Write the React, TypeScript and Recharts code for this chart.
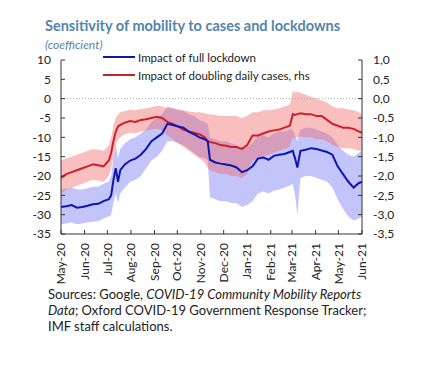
import React from 'react';
import {
  ComposedChart,
  Area,
  Line,
  XAxis,
  YAxis,
  ReferenceLine,
} from 'recharts';

// observation dates (roughly weekly, extra points around the jumps)
const dates = [
  '2020-05-01', '2020-05-08', '2020-05-15', '2020-05-22', '2020-05-29', '2020-06-05', '2020-06-12',
  '2020-06-19', '2020-06-26', '2020-07-03', '2020-07-06', '2020-07-09', '2020-07-12', '2020-07-15',
  '2020-07-18', '2020-07-24', '2020-07-31', '2020-08-07', '2020-08-14', '2020-08-21', '2020-08-28',
  '2020-09-04', '2020-09-11', '2020-09-18', '2020-09-25', '2020-10-02', '2020-10-09', '2020-10-16',
  '2020-10-23', '2020-10-30', '2020-11-06', '2020-11-10', '2020-11-13', '2020-11-20', '2020-11-27',
  '2020-12-04', '2020-12-11', '2020-12-18', '2020-12-25', '2021-01-01', '2021-01-08', '2021-01-15',
  '2021-01-22', '2021-01-29', '2021-02-05', '2021-02-12', '2021-02-19', '2021-02-26', '2021-03-02',
  '2021-03-05', '2021-03-08', '2021-03-12', '2021-03-19', '2021-03-26', '2021-04-02', '2021-04-09',
  '2021-04-16', '2021-04-23', '2021-04-30', '2021-05-07', '2021-05-14', '2021-05-21', '2021-05-28',
  '2021-06-01',
];

// impact of full lockdown (lhs)
const lockdown = [
  -28, -27.8, -27.5, -28.2, -28, -27.7, -27.3, -27.2, -26.5, -26, -25, -21, -18, -21.5,
  -18.5, -17, -16, -15.5, -14.5, -13, -11, -10, -9, -6.5, -6.8, -7.2, -7.5, -8.5,
  -9.2, -10, -10.5, -11, -15.8, -16.5, -16.8, -17, -17.3, -17.8, -19, -18.5, -17.5, -15.5,
  -15.2, -15.8, -14.8, -14.5, -14.3, -13.8, -13.5, -15.5, -17.8, -13.5, -13.2, -12.8, -13, -13.4,
  -13.8, -14.5, -17.5, -19.5, -21.5, -23, -21.8, -21.5,
];
const lockdownLow = [
  -32.5, -32.3, -32, -32.5, -32.3, -32, -31.8, -31.7, -31, -30.5, -30, -27, -24.5, -27,
  -24.5, -23, -21.5, -21, -20, -18, -16, -15, -13.5, -11, -11, -11.5, -12, -13,
  -14, -15, -15.5, -16, -25.5, -26, -26.5, -26.5, -27, -27, -28, -27.5, -26.5, -24.5,
  -24, -24.5, -23.8, -23.5, -23, -22.5, -22, -25, -30, -20.5, -20, -20, -20.5, -21,
  -21.5, -23, -26, -28.5, -30.5, -31.5, -31, -30.5,
];
const lockdownHigh = [
  -23.5, -23.3, -23, -23.5, -23.5, -23.2, -22.8, -22.7, -22, -21.5, -20, -15, -12, -15.5,
  -13, -11.5, -10.5, -10, -9, -8, -6, -5, -4, -2, -2.5, -3, -3.2, -4,
  -4.5, -5.5, -6, -6.5, -10, -10.5, -11, -11, -11.5, -12, -13, -12.5, -11.5, -9.5,
  -9.5, -10, -9, -8.5, -8.5, -8, -8, -9.5, -11, -8, -7.5, -7.5, -8, -8.5,
  -9, -10, -12, -13.5, -14.5, -15, -14, -13.5,
];

// impact of doubling daily cases (rhs)
const cases = [
  -2.05, -1.95, -1.9, -1.85, -1.8, -1.75, -1.7, -1.72, -1.75, -1.6, -1.4, -1.1, -0.85, -0.72,
  -0.68, -0.62, -0.58, -0.6, -0.55, -0.53, -0.5, -0.47, -0.5, -0.6, -0.65, -0.72, -0.8, -0.85,
  -0.88, -0.92, -1.0, -1.1, -1.12, -1.15, -1.2, -1.22, -1.25, -1.25, -1.3, -1.2, -0.95, -0.95,
  -0.9, -0.85, -0.82, -0.8, -0.75, -0.7, -0.4, -0.42, -0.4, -0.38, -0.4, -0.4, -0.45, -0.45,
  -0.55, -0.65, -0.7, -0.75, -0.75, -0.78, -0.85, -0.88,
];
const casesLow = [
  -2.45, -2.35, -2.3, -2.25, -2.2, -2.15, -2.1, -2.12, -2.15, -2.0, -1.8, -1.5, -1.2, -1.05,
  -1.0, -0.92, -0.88, -0.9, -0.85, -0.83, -0.8, -0.78, -0.82, -0.95, -1.05, -1.15, -1.25, -1.35,
  -1.45, -1.55, -1.65, -1.8, -1.85, -1.9, -1.95, -1.95, -2.0, -2.0, -2.05, -1.95, -1.6, -1.55,
  -1.5, -1.45, -1.4, -1.35, -1.3, -1.25, -1.0, -1.02, -1.0, -0.98, -1.0, -1.0, -1.05, -1.05,
  -1.1, -1.2, -1.25, -1.28, -1.28, -1.3, -1.35, -1.35,
];
const casesHigh = [
  -1.6, -1.55, -1.5, -1.45, -1.4, -1.35, -1.3, -1.32, -1.35, -1.2, -1.0, -0.7, -0.5, -0.4,
  -0.35, -0.32, -0.28, -0.3, -0.27, -0.25, -0.22, -0.18, -0.2, -0.25, -0.25, -0.28, -0.3, -0.33,
  -0.35, -0.35, -0.38, -0.4, -0.4, -0.42, -0.45, -0.45, -0.45, -0.45, -0.5, -0.45, -0.35, -0.35,
  -0.3, -0.3, -0.28, -0.25, -0.2, -0.15, 0.2, 0.15, 0.18, 0.15, 0.1, 0.05, 0.0, -0.05,
  -0.1, -0.2, -0.25, -0.25, -0.28, -0.3, -0.35, -0.4,
];

const monthTicks = [
  '2020-05-01', '2020-06-01', '2020-07-01', '2020-08-01', '2020-09-01', '2020-10-01', '2020-11-01',
  '2020-12-01', '2021-01-01', '2021-02-01', '2021-03-01', '2021-04-01', '2021-05-01', '2021-06-01',
];
const monthLabels = [
  'May-20', 'Jun-20', 'Jul-20', 'Aug-20', 'Sep-20', 'Oct-20', 'Nov-20',
  'Dec-20', 'Jan-21', 'Feb-21', 'Mar-21', 'Apr-21', 'May-21', 'Jun-21',
];
const leftTicks = [10, 5, 0, -5, -10, -15, -20, -25, -30, -35];
const rightTicks = [1, 0.5, 0, -0.5, -1, -1.5, -2, -2.5, -3, -3.5];

const BLUE = '#0d16b0';
const RED = '#d01f2b';
const FONT = 'Lato, "Open Sans", sans-serif';

const data = dates.map((d, i) => ({
  t: Date.parse(d),
  lockdown: lockdown[i],
  lockdownBand: [lockdownLow[i], lockdownHigh[i]],
  cases: cases[i],
  casesBand: [casesLow[i], casesHigh[i]],
}));

const tickTimes = monthTicks.map((d) => Date.parse(d));

const MonthTick = ({ x, y, payload }: any) => {
  const idx = tickTimes.indexOf(payload.value);
  return (
    <text
      x={0}
      y={0}
      transform={`translate(${x},${y}) rotate(-90)`}
      textAnchor="end"
      dy="0.35em"
      fontSize={12}
      fontFamily={FONT}
      fill="#222"
    >
      {monthLabels[idx]}
    </text>
  );
};

export default function App() {
  return (
    <div
      style={{
        position: 'absolute',
        left: 0,
        top: 0,
        width: 439,
        height: 380,
        background: '#fff',
        fontFamily: FONT,
      }}
    >
      <div
        style={{
          position: 'absolute',
          left: 45,
          top: 17,
          fontSize: 14.5,
          fontWeight: 700,
          color: '#5484a8',
          whiteSpace: 'nowrap',
        }}
      >
        Sensitivity of mobility to cases and lockdowns
      </div>
      <div
        style={{
          position: 'absolute',
          left: 45,
          top: 37,
          fontSize: 12,
          fontStyle: 'italic',
          color: '#5484a8',
        }}
      >
        (coefficient)
      </div>

      <div style={{ position: 'absolute', left: 0, top: 0 }}>
        <ComposedChart
          width={439}
          height={300}
          data={data}
          margin={{ top: 60, right: 7, left: 0, bottom: 20 }}
        >
          <XAxis
            dataKey="t"
            type="number"
            scale="time"
            domain={[tickTimes[0], tickTimes[tickTimes.length - 1]]}
            ticks={tickTimes}
            tick={<MonthTick />}
            tickSize={-4}
            tickMargin={13}
            height={46}
            stroke="#333"
            interval={0}
          />
          <YAxis
            yAxisId="left"
            domain={[-35, 10]}
            ticks={leftTicks}
            width={61}
            tickSize={-4}
            tickMargin={14}
            stroke="#333"
            interval={0}
            tick={{ fontSize: 12, fill: '#222', fontFamily: FONT }}
          />
          <YAxis
            yAxisId="right"
            orientation="right"
            domain={[-3.5, 1]}
            ticks={rightTicks}
            width={70}
            tickSize={-4}
            tickMargin={15}
            stroke="#333"
            interval={0}
            tickFormatter={(v: number) => v.toFixed(1).replace('.', ',')}
            tick={{ fontSize: 12, fill: '#222', fontFamily: FONT, textAnchor: 'start' }}
          />
          <ReferenceLine yAxisId="left" y={0} stroke="#aaa" strokeDasharray="1 2" />
          <Area
            yAxisId="left"
            type="linear"
            dataKey="lockdownBand"
            stroke="none"
            fill="#7b7ff5"
            fillOpacity={0.45}
            isAnimationActive={false}
          />
          <Area
            yAxisId="right"
            type="linear"
            dataKey="casesBand"
            stroke="none"
            fill="#f06060"
            fillOpacity={0.4}
            isAnimationActive={false}
          />
          <Line
            yAxisId="right"
            type="linear"
            dataKey="cases"
            stroke={RED}
            strokeWidth={2}
            dot={false}
            isAnimationActive={false}
          />
          <Line
            yAxisId="left"
            type="linear"
            dataKey="lockdown"
            stroke={BLUE}
            strokeWidth={2}
            dot={false}
            isAnimationActive={false}
          />
        </ComposedChart>
      </div>

      {/* legend */}
      <div style={{ position: 'absolute', left: 103, top: 48, fontSize: 11.5, color: '#222' }}>
        <div style={{ display: 'flex', alignItems: 'center', height: 18 }}>
          <span style={{ display: 'inline-block', width: 32, height: 2, background: BLUE, marginRight: 3 }} />
          Impact of full lockdown
        </div>
        <div style={{ display: 'flex', alignItems: 'center', height: 18 }}>
          <span style={{ display: 'inline-block', width: 32, height: 2, background: RED, marginRight: 3 }} />
          Impact of doubling daily cases, rhs
        </div>
      </div>

      <div
        style={{
          position: 'absolute',
          left: 48,
          top: 286,
          fontSize: 13,
          lineHeight: '16px',
          color: '#222',
          width: 390,
        }}
      >
        Sources: Google, <i>COVID-19 Community Mobility Reports</i>
        <br />
        <i>Data</i>; Oxford COVID-19 Government Response Tracker;
        <br />
        IMF staff calculations.
      </div>
    </div>
  );
}
